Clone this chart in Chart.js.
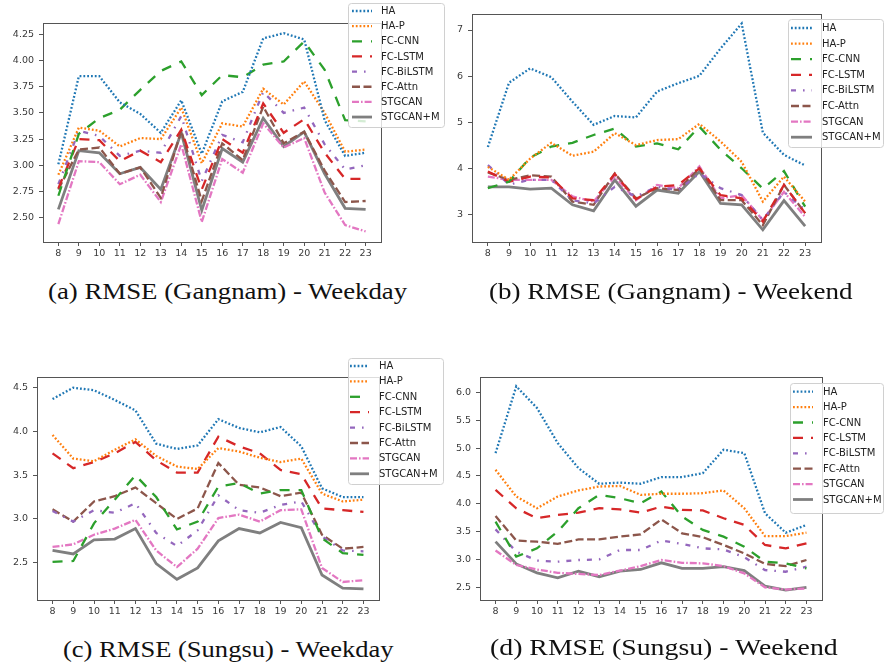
<!DOCTYPE html>
<html>
<head>
<meta charset="utf-8">
<script src="https://cdn.jsdelivr.net/npm/chart.js@4.4.1/dist/chart.umd.min.js"></script>
<style>
  body { margin: 0; background: #fff; width: 884px; height: 667px; position: relative; overflow: hidden; }
  canvas { position: absolute; }
  .cap { position: absolute; font-family: "Liberation Serif", serif; font-size: 23px; line-height: 23px;
         color: #111; white-space: nowrap; transform-origin: 0 0; }
</style>
</head>
<body>
<canvas id="ca" width="446" height="270" style="left:0;top:0"></canvas>
<canvas id="cb" width="440" height="270" style="left:444px;top:0"></canvas>
<canvas id="cc" width="446" height="290" style="left:0;top:335px"></canvas>
<canvas id="cd" width="440" height="290" style="left:444px;top:335px"></canvas>
<div class="cap" id="ta">(a) RMSE (Gangnam) - Weekday</div>
<div class="cap" id="tb">(b) RMSE (Gangnam) - Weekend</div>
<div class="cap" id="tc">(c) RMSE (Sungsu) - Weekday</div>
<div class="cap" id="td">(d) RMSE (Sungsu) - Weekend</div>
<script>
const hours = [8, 9, 10, 11, 12, 13, 14, 15, 16, 17, 18, 19, 20, 21, 22, 23];
const models = ['HA', 'HA-P', 'FC-CNN', 'FC-LSTM', 'FC-BiLSTM', 'FC-Attn', 'STGCAN', 'STGCAN+M'];

// (a) Gangnam weekday
const gwdHA       = [3.01, 3.85, 3.85, 3.60, 3.49, 3.31, 3.62, 3.11, 3.61, 3.70, 4.21, 4.26, 4.20, 3.43, 3.09, 3.12];
const gwdHAP      = [2.91, 3.36, 3.33, 3.18, 3.26, 3.25, 3.55, 3.02, 3.40, 3.37, 3.73, 3.58, 3.80, 3.50, 3.13, 3.15];
const gwdCNN      = [2.71, 3.30, 3.45, 3.53, 3.72, 3.90, 3.99, 3.67, 3.86, 3.84, 3.96, 3.99, 4.18, 3.91, 3.43, 3.42];
const gwdLSTM     = [2.78, 3.25, 3.24, 3.04, 3.14, 3.03, 3.34, 2.77, 3.25, 3.12, 3.59, 3.31, 3.44, 3.12, 2.87, 2.87];
const gwdBiLSTM   = [2.82, 3.33, 3.28, 3.09, 3.14, 3.12, 3.47, 2.85, 3.29, 3.22, 3.70, 3.50, 3.55, 3.20, 2.96, 3.00];
const gwdAttn     = [2.77, 3.15, 3.17, 2.92, 2.98, 2.69, 3.33, 2.66, 3.21, 3.05, 3.56, 3.21, 3.32, 2.95, 2.65, 2.66];
const gwdSTGCAN   = [2.44, 3.04, 3.03, 2.82, 2.91, 2.65, 3.20, 2.46, 3.06, 2.93, 3.40, 3.17, 3.26, 2.74, 2.43, 2.37];
const gwdSTGCANM  = [2.58, 3.14, 3.12, 2.92, 2.98, 2.77, 3.31, 2.57, 3.16, 3.03, 3.45, 3.18, 3.32, 2.92, 2.59, 2.58];

// (b) Gangnam weekend
const gweHA       = [4.47, 5.86, 6.17, 5.98, 5.45, 4.95, 5.14, 5.11, 5.67, 5.85, 6.01, 6.60, 7.14, 4.78, 4.30, 4.07];
const gweHAP      = [4.04, 3.76, 4.22, 4.56, 4.28, 4.37, 4.77, 4.51, 4.62, 4.64, 4.97, 4.59, 4.15, 3.29, 3.83, 3.29];
const gweCNN      = [3.58, 3.72, 4.24, 4.48, 4.56, 4.73, 4.87, 4.48, 4.55, 4.42, 4.91, 4.41, 4.01, 3.57, 3.95, 3.18];
const gweLSTM     = [3.94, 3.72, 3.83, 3.81, 3.36, 3.32, 3.89, 3.34, 3.61, 3.65, 4.01, 3.43, 3.36, 2.86, 3.65, 3.04];
const gweBiLSTM   = [4.08, 3.66, 3.76, 3.76, 3.32, 3.25, 3.61, 3.40, 3.61, 3.54, 3.90, 3.58, 3.43, 2.89, 3.50, 3.11];
const gweAttn     = [3.92, 3.76, 3.86, 3.83, 3.29, 3.22, 3.90, 3.36, 3.58, 3.54, 4.01, 3.32, 3.32, 2.78, 3.65, 3.04];
const gweSTGCAN   = [3.83, 3.76, 3.76, 3.76, 3.40, 3.29, 3.83, 3.32, 3.65, 3.58, 4.05, 3.36, 3.43, 2.89, 3.50, 2.96];
const gweSTGCANM  = [3.61, 3.61, 3.56, 3.58, 3.22, 3.09, 3.76, 3.19, 3.54, 3.47, 3.94, 3.25, 3.22, 2.68, 3.31, 2.76];

// (c) Sungsu weekday
const swdHA       = [4.37, 4.50, 4.47, 4.36, 4.24, 3.86, 3.80, 3.84, 4.14, 4.04, 3.99, 4.05, 3.83, 3.35, 3.25, 3.25];
const swdHAP      = [3.96, 3.69, 3.66, 3.79, 3.91, 3.72, 3.60, 3.57, 3.81, 3.77, 3.70, 3.65, 3.69, 3.29, 3.20, 3.22];
const swdCNN      = [2.51, 2.52, 2.95, 3.22, 3.50, 3.25, 2.88, 2.97, 3.37, 3.41, 3.29, 3.33, 3.33, 2.78, 2.61, 2.59];
const swdLSTM     = [3.75, 3.58, 3.65, 3.75, 3.88, 3.67, 3.53, 3.53, 3.94, 3.83, 3.75, 3.56, 3.51, 3.12, 3.10, 3.08];
const swdBiLSTM   = [3.09, 2.97, 3.10, 3.07, 3.18, 2.84, 2.69, 2.87, 3.27, 3.10, 3.07, 3.16, 3.20, 2.80, 2.64, 2.63];
const swdAttn     = [3.11, 2.97, 3.20, 3.26, 3.36, 3.18, 3.00, 3.12, 3.64, 3.39, 3.36, 3.26, 3.30, 2.82, 2.66, 2.68];
const swdSTGCAN   = [2.68, 2.71, 2.82, 2.89, 2.99, 2.64, 2.45, 2.66, 3.01, 3.05, 2.97, 3.10, 3.11, 2.44, 2.28, 2.30];
const swdSTGCANM  = [2.64, 2.60, 2.76, 2.77, 2.89, 2.49, 2.31, 2.44, 2.75, 2.89, 2.84, 2.96, 2.90, 2.36, 2.21, 2.20];

// (d) Sungsu weekend
const sweHA       = [4.91, 6.11, 5.72, 5.09, 4.64, 4.36, 4.38, 4.36, 4.48, 4.48, 4.55, 4.97, 4.91, 3.83, 3.48, 3.62];
const sweHAP      = [4.61, 4.13, 3.92, 4.13, 4.24, 4.31, 4.32, 4.16, 4.18, 4.18, 4.19, 4.24, 3.92, 3.42, 3.42, 3.48];
const sweCNN      = [3.68, 3.05, 3.20, 3.50, 3.92, 4.16, 4.10, 4.01, 4.22, 3.77, 3.53, 3.41, 3.23, 2.96, 2.93, 2.84];
const sweLSTM     = [4.25, 3.92, 3.74, 3.80, 3.84, 3.92, 3.90, 3.84, 3.95, 3.89, 3.88, 3.74, 3.62, 3.26, 3.20, 3.29];
const sweBiLSTM   = [3.54, 3.14, 2.98, 2.96, 2.99, 3.00, 3.17, 3.17, 3.34, 3.28, 3.20, 3.18, 3.04, 2.81, 2.78, 2.87];
const sweAttn     = [3.78, 3.34, 3.32, 3.28, 3.36, 3.36, 3.41, 3.45, 3.72, 3.47, 3.40, 3.26, 3.11, 2.92, 2.88, 2.99];
const sweSTGCAN   = [3.16, 2.90, 2.82, 2.76, 2.74, 2.72, 2.80, 2.88, 2.99, 2.94, 2.93, 2.88, 2.75, 2.50, 2.46, 2.48];
const sweSTGCANM  = [3.32, 2.92, 2.76, 2.67, 2.79, 2.69, 2.79, 2.82, 2.94, 2.84, 2.84, 2.87, 2.80, 2.52, 2.45, 2.50];

const yTicksA = ['2.50', '2.75', '3.00', '3.25', '3.50', '3.75', '4.00', '4.25'];
const yTicksB = ['3', '4', '5', '6', '7'];
const yTicksC = ['2.5', '3.0', '3.5', '4.0', '4.5'];
const yTicksD = ['2.5', '3.0', '3.5', '4.0', '4.5', '5.0', '5.5', '6.0'];

const colours = ['#1f77b4', '#ff7f0e', '#2ca02c', '#d62728', '#9467bd', '#8c564b', '#e377c2', '#7f7f7f'];
const dashes = [[1.8, 2], [1.8, 2], [10, 9], [10, 8], [5, 7, 1.6, 7], [8, 3.5], [7, 2, 1.6, 2], []];
const widths = [2.3, 2.3, 2.3, 2.3, 2.3, 2.3, 2.3, 2.8];

const ink = '#3a3a3a';
const tickFont = {family: 'DejaVu Sans', size: 9.5};

// box round the axes and the matplotlib-style legend
const frameAndLegend = {
  id: 'frameAndLegend',
  afterDatasetsDraw(chart, args, opts) {
    const {ctx, chartArea: a} = chart;
    ctx.save();
    ctx.strokeStyle = '#555';
    ctx.lineWidth = 1;
    ctx.setLineDash([]);
    ctx.strokeRect(Math.round(a.left) + 0.5, Math.round(a.top) + 0.5,
                   Math.round(a.right - a.left), Math.round(a.bottom - a.top));

    const L = opts.box;
    ctx.beginPath();
    ctx.roundRect(L.x + 0.5, L.y + 0.5, L.w, L.h, 3);
    ctx.fillStyle = 'rgba(255,255,255,0.8)';
    ctx.fill();
    ctx.strokeStyle = '#d0d0d0';
    ctx.stroke();

    ctx.font = '10px "DejaVu Sans"';
    ctx.textBaseline = 'middle';
    chart.data.datasets.forEach((ds, i) => {
      const y = L.row0 + i * L.step;
      ctx.beginPath();
      ctx.setLineDash(ds.borderDash || []);
      ctx.lineDashOffset = 0;
      ctx.strokeStyle = ds.borderColor;
      ctx.lineWidth = ds.borderWidth;
      ctx.moveTo(L.h0, y);
      ctx.lineTo(L.h1, y);
      ctx.stroke();
      ctx.setLineDash([]);
      ctx.fillStyle = '#222';
      ctx.fillText(ds.label, L.tx, y + 0.5);
    });
    ctx.restore();
  }
};

function panel(id, series, yTicks, yMin, yMax, box, pad, yWidth, xHeight) {
  return new Chart(document.getElementById(id), {
    type: 'line',
    data: {
      datasets: series.map((vals, i) => ({
        label: models[i],
        data: hours.map((h, k) => ({x: h, y: vals[k]})),
        borderColor: colours[i],
        borderDash: dashes[i],
        borderWidth: widths[i],
        borderCapStyle: 'butt',
        pointRadius: 0,
        tension: 0,
        fill: false
      }))
    },
    options: {
      responsive: false,
      animation: false,
      events: [],
      layout: {padding: pad},
      plugins: {
        legend: false,
        tooltip: {enabled: false},
        frameAndLegend: {box: box}
      },
      scales: {
        x: {
          type: 'linear',
          min: 7.25,
          max: 23.75,
          afterBuildTicks: s => { s.ticks = hours.map(v => ({value: v})); },
          afterFit: s => { s.height = xHeight; },
          grid: {drawOnChartArea: false, drawTicks: true, tickLength: 4, color: '#555'},
          border: {display: false},
          ticks: {font: tickFont, color: ink, padding: 2, maxRotation: 0, autoSkip: false,
                  callback: v => String(v)}
        },
        y: {
          type: 'linear',
          min: yMin,
          max: yMax,
          afterBuildTicks: s => { s.ticks = yTicks.map(t => ({value: parseFloat(t)})); },
          afterFit: s => { s.width = yWidth; },
          grid: {drawOnChartArea: false, drawTicks: true, tickLength: 4, color: '#555'},
          border: {display: false},
          ticks: {font: tickFont, color: ink, padding: 5, autoSkip: false,
                  callback: (v, i) => yTicks[i]}
        }
      }
    },
    plugins: [frameAndLegend]
  });
}

panel('ca', [gwdHA, gwdHAP, gwdCNN, gwdLSTM, gwdBiLSTM, gwdAttn, gwdSTGCAN, gwdSTGCANM],
  yTicksA, 2.269, 4.357,
  {x: 348, y: 3, w: 96, h: 124, row0: 11, step: 15.15, h0: 352, h1: 372, tx: 381},
  {left: 0, top: 23, right: 65, bottom: 0}, 43, 28);

panel('cb', [gweHA, gweHAP, gweCNN, gweLSTM, gweBiLSTM, gweAttn, gweSTGCAN, gweSTGCANM],
  yTicksB, 2.416, 7.346,
  {x: 344, y: 19, w: 95, h: 128, row0: 28, step: 15.6, h0: 347, h1: 368, tx: 378},
  {left: 0, top: 14, right: 63, bottom: 0}, 28, 28);

panel('cc', [swdHA, swdHAP, swdCNN, swdLSTM, swdBiLSTM, swdAttn, swdSTGCAN, swdSTGCANM],
  yTicksC, 2.074, 4.622,
  {x: 348, y: 23, w: 95, h: 126, row0: 31, step: 15.4, h0: 350, h1: 369, tx: 379},
  {left: 0, top: 42, right: 67, bottom: 0}, 37, 25);

panel('cd', [sweHA, sweHAP, sweCNN, sweLSTM, sweBiLSTM, sweAttn, sweSTGCAN, sweSTGCANM],
  yTicksD, 2.272, 6.277,
  {x: 346, y: 48, w: 93, h: 130, row0: 56.7, step: 15.4, h0: 349, h1: 369, tx: 379},
  {left: 0, top: 42, right: 62, bottom: 0}, 36, 25);

// captions: centre x, centre y, target width
const captions = [['ta', 227.5, 291.7, 359], ['tb', 670, 291.7, 363], ['tc', 228, 650, 330], ['td', 664, 648, 348]];
captions.forEach(([id, cx, cy, w]) => {
  const el = document.getElementById(id);
  const k = w / el.offsetWidth;
  el.style.left = (cx - w / 2) + 'px';
  el.style.top = (cy - 11.7) + 'px';
  el.style.transform = 'scaleX(' + k + ')';
});
</script>
</body>
</html>
